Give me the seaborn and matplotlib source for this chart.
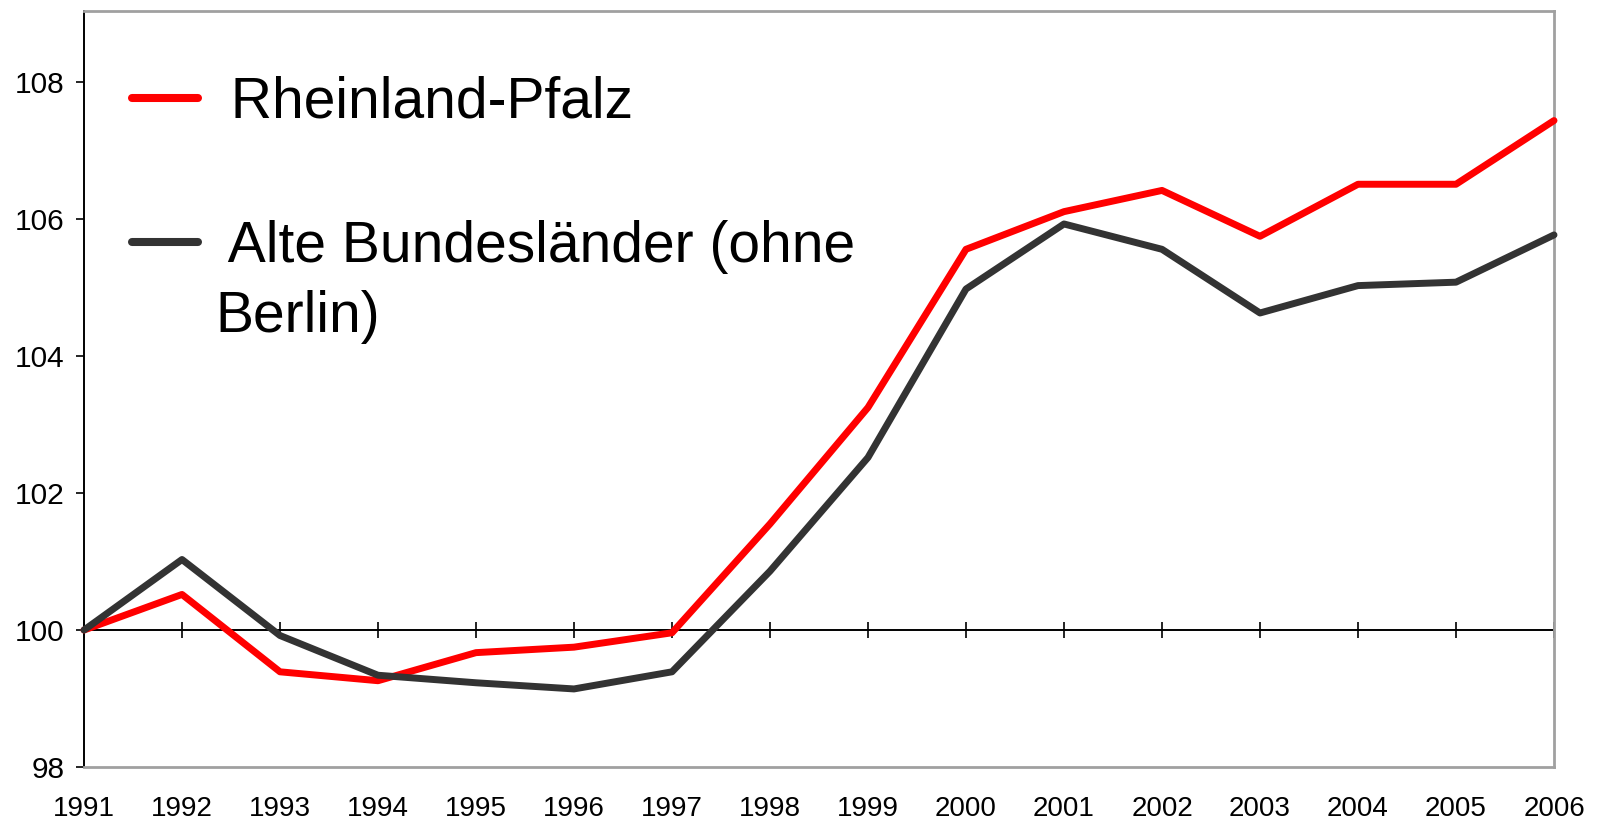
import matplotlib
matplotlib.use("Agg")
import matplotlib.pyplot as plt
import seaborn as sns
import pandas as pd
from matplotlib.lines import Line2D

# ---- data ----
years = list(range(1991, 2007))
rheinland_pfalz = [100.0, 100.52, 99.39, 99.26, 99.67, 99.75, 99.96, 101.55, 103.25,
                   105.56, 106.11, 106.42, 105.75, 106.51, 106.51, 107.44]
alte_laender = [100.0, 101.03, 99.92, 99.34, 99.23, 99.14, 99.39, 100.86, 102.52,
                104.98, 105.93, 105.56, 104.63, 105.03, 105.08, 105.77]
series_names = [" Rheinland-Pfalz", " Alte Bundesländer (ohne"]
label_cont = "Berlin)"
y_ticks = [98, 100, 102, 104, 106, 108]
colors = ["#ff0000", "#333333"]

sns.set_theme(style="white")
plt.rcParams["font.family"] = ["Liberation Sans", "DejaVu Sans"]

df = pd.DataFrame({
    "Jahr": years * 2,
    "Wert": rheinland_pfalz + alte_laender,
    "Reihe": [series_names[0]] * len(years) + [series_names[1]] * len(years),
})

W, H = 1603, 824
fig = plt.figure(figsize=(W / 100, H / 100), dpi=100)
ax = fig.add_axes([84 / W, 1 - 767 / H, (1554 - 84) / W, (767 - 11) / H])

YMIN, YMAX = 98, 109.04
ax.axhline(100, color="black", lw=1.4, zorder=1)

sns.lineplot(data=df, x="Jahr", y="Wert", hue="Reihe", palette=colors,
             linewidth=5, ax=ax, legend=False, zorder=3)
for ln in ax.get_lines()[1:]:
    ln.set_solid_capstyle("round")
    ln.set_clip_on(False)

ax.set_xlim(years[0], years[-1])
ax.set_ylim(YMIN, YMAX)
ax.set_xlabel("")
ax.set_ylabel("")

ax.set_xticks(years)
ax.set_xticklabels([str(y) for y in years])
ax.tick_params(axis="x", length=0, pad=21, labelsize=20, labelcolor="black")
ax.set_yticks(y_ticks)
ax.tick_params(axis="y", left=True, length=6, width=1.2, color="black", pad=8,
               labelsize=21.5, labelcolor="black")

for s in ["top", "right", "bottom"]:
    ax.spines[s].set_color("#a0a0a0")
    ax.spines[s].set_linewidth(2)
ax.spines["left"].set_color("black")
ax.spines["left"].set_linewidth(1.4)

# tick marks crossing the 100-line
sec = ax.secondary_xaxis((100 - YMIN) / (YMAX - YMIN))
sec.set_xticks(years)
sec.tick_params(axis="x", direction="inout", length=11, width=1.2, color="black",
                labelbottom=False, labeltop=False)
for s in sec.spines.values():
    s.set_visible(False)

handles = [Line2D([], [], color=c, lw=5.8, solid_capstyle="round") for c in colors]
leg = ax.legend(handles, series_names, loc="upper left",
                bbox_to_anchor=(132 / W, 1 - 76 / H), bbox_transform=fig.transFigure,
                frameon=False, fontsize=41, handlelength=1.16, handletextpad=0.3,
                labelspacing=1.58, borderpad=0, borderaxespad=0)
for t in leg.get_texts():
    t.set_color("black")
fig.text(215 / W, 1 - 332 / H, label_cont, fontsize=41, color="black",
         ha="left", va="baseline")

fig.savefig("out.png", dpi=100)
